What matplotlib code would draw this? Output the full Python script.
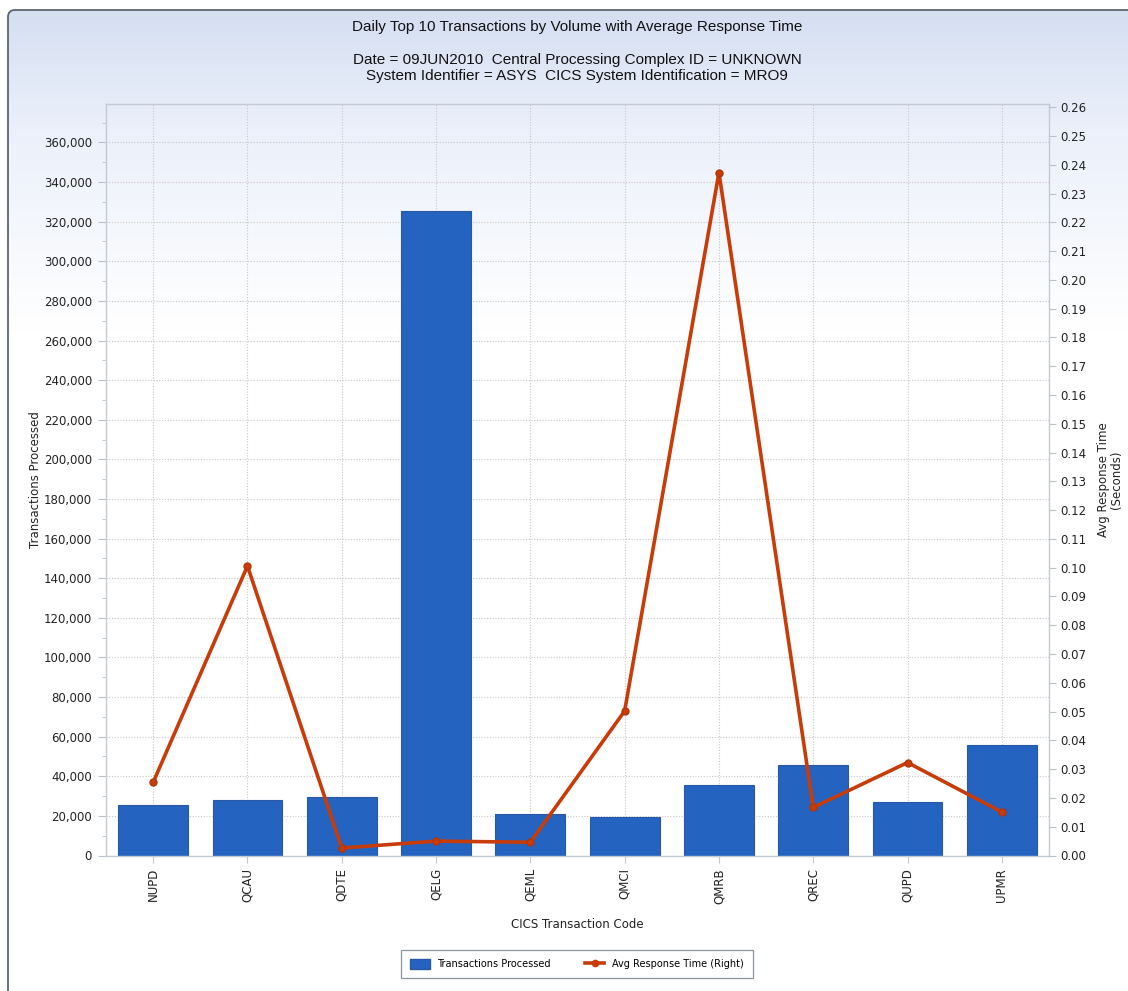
import matplotlib
matplotlib.use('Agg')
import matplotlib.pyplot as plt
import numpy as np
from matplotlib.patches import FancyBboxPatch, Patch
from matplotlib.lines import Line2D
from matplotlib.ticker import MultipleLocator, FuncFormatter

# ---------------- data ----------------
codes = ['NUPD', 'QCAU', 'QDTE', 'QELG', 'QEML', 'QMCI', 'QMRB', 'QREC', 'QUPD', 'UPMR']
transactions = [25500, 27900, 29700, 325500, 21000, 19400, 35500, 45900, 26800, 55900]
avg_response = [0.0254, 0.1006, 0.0026, 0.0050, 0.0046, 0.0502, 0.2373, 0.0167, 0.0323, 0.0151]

title = 'Daily Top 10 Transactions by Volume with Average Response Time'
subtitle1 = 'Date = 09JUN2010  Central Processing Complex ID = UNKNOWN'
subtitle2 = 'System Identifier = ASYS  CICS System Identification = MRO9'
xlabel = 'CICS Transaction Code'
ylabel_left = 'Transactions Processed'
ylabel_right = 'Avg Response Time\n(Seconds)'
legend_bar = 'Transactions Processed'
legend_line = 'Avg Response Time (Right)'

BAR_COLOR = '#2563c0'
BAR_EDGE = '#2a58a4'
LINE_COLOR = '#c83c0a'
GRID_COLOR = '#c8c8c8'
SPINE_COLOR = '#c3cad4'
TEXT_COLOR = '#222222'

W, H = 1128, 991
fig = plt.figure(figsize=(W / 100, H / 100), dpi=100)
fig.patch.set_facecolor('white')

# ---------------- background panel with gradient ----------------
bg = fig.add_axes([0, 0, 1, 1], zorder=-10)
bg.axis('off')
yy = np.linspace(10, H + 20, 1000)
ys = [10, 130, 330, H + 20]
cols = np.array([[213, 223, 242], [235, 240, 250], [255, 255, 255], [255, 255, 255]]) / 255.0
grad = np.stack([np.interp(yy, ys, cols[:, k]) for k in range(3)], axis=1)
img = grad[:, None, :]
panel = FancyBboxPatch((8, 10), W + 20, H + 20,
                       boxstyle='round,pad=0,rounding_size=7',
                       fc='none', ec='#5c646d', lw=1.3, zorder=2)
im = bg.imshow(img, extent=[8, W + 20, H + 20, 10], aspect='auto', zorder=1)
bg.add_patch(panel)
im.set_clip_path(panel)
bg.set_xlim(0, W)
bg.set_ylim(H, 0)

# ---------------- titles ----------------
tfont = dict(family=['Liberation Sans', 'DejaVu Sans'], color='#111111')
fig.text(577 / W, 1 - 27 / H, title, ha='center', va='center', fontsize=11, **tfont)
fig.text(577 / W, 1 - 60 / H, subtitle1, ha='center', va='center', fontsize=11, **tfont)
fig.text(577 / W, 1 - 76 / H, subtitle2, ha='center', va='center', fontsize=11, **tfont)

# ---------------- main axes ----------------
L, R, T, B = 106, 1049, 104, 855.5
ax = fig.add_axes([L / W, (H - B) / H, (R - L) / W, (B - T) / H])
ax.patch.set_alpha(0)
x = np.arange(len(codes))
ax.bar(x, transactions, width=0.74, color=BAR_COLOR, edgecolor=BAR_EDGE, lw=0.8, zorder=2)
ax.set_xlim(-0.5, len(codes) - 0.5)
ax.set_ylim(0, 379400)
ax.yaxis.set_major_locator(MultipleLocator(20000))
ax.yaxis.set_minor_locator(MultipleLocator(10000))
ax.yaxis.set_major_formatter(FuncFormatter(lambda v, p: f'{int(round(v)):,}'))
ax.set_xticks(x)
ax.set_xticklabels(codes, rotation=90)
ax.grid(True, which='major', axis='both', ls=(0, (1, 1.5)), color=GRID_COLOR, lw=0.8)
ax.set_axisbelow(True)
for s in ax.spines.values():
    s.set_color(SPINE_COLOR)
    s.set_linewidth(1.0)
ax.tick_params(axis='y', which='major', length=6, color='#bcc2ca', labelsize=8.5,
               labelcolor=TEXT_COLOR, pad=4)
ax.tick_params(axis='y', which='minor', length=3, color='#bcc2ca')
ax.tick_params(axis='x', length=5, color='#c8c8c8', labelsize=8.5, labelcolor=TEXT_COLOR, pad=4)
ax.set_xlabel(xlabel, fontsize=8.5, color=TEXT_COLOR, labelpad=10)
ax.set_ylabel(ylabel_left, fontsize=8.5, color=TEXT_COLOR, labelpad=1)

# ---------------- right axis ----------------
ax2 = ax.twinx()
ax2.set_ylim(0, 0.2611)
ax2.set_yticks(np.arange(0, 0.2601, 0.01))
ax2.yaxis.set_major_formatter(FuncFormatter(lambda v, p: f'{v:.2f}'))
for s in ax2.spines.values():
    s.set_visible(False)
ax2.tick_params(axis='y', length=5, color='#bcc2ca', labelsize=8.5, labelcolor=TEXT_COLOR, pad=3)
ax2.plot(x, avg_response, color=LINE_COLOR, lw=2.6, marker='o', ms=5.0,
         markerfacecolor=LINE_COLOR, markeredgecolor='#b43508', zorder=3)
ax2.set_ylabel(ylabel_right, fontsize=8.5, color=TEXT_COLOR, rotation=90,
               labelpad=8, linespacing=1.0)

# ---------------- legend ----------------
handles = [Patch(facecolor=BAR_COLOR, edgecolor=BAR_EDGE, label=legend_bar),
           Line2D([0], [0], color=LINE_COLOR, lw=2.6, marker='o', ms=4.5,
                  markerfacecolor=LINE_COLOR, label=legend_line)]
leg = fig.legend(handles=handles, loc='center', bbox_to_anchor=(577 / W, 1 - 964 / H),
                 ncol=2, fontsize=7, frameon=True, fancybox=False, edgecolor='#8c939b',
                 framealpha=1, handlelength=2.0, handleheight=1.3, columnspacing=3.5,
                 borderpad=0.9, handletextpad=0.8)
leg.get_frame().set_linewidth(0.9)

fig.savefig('out.png', dpi=100)
